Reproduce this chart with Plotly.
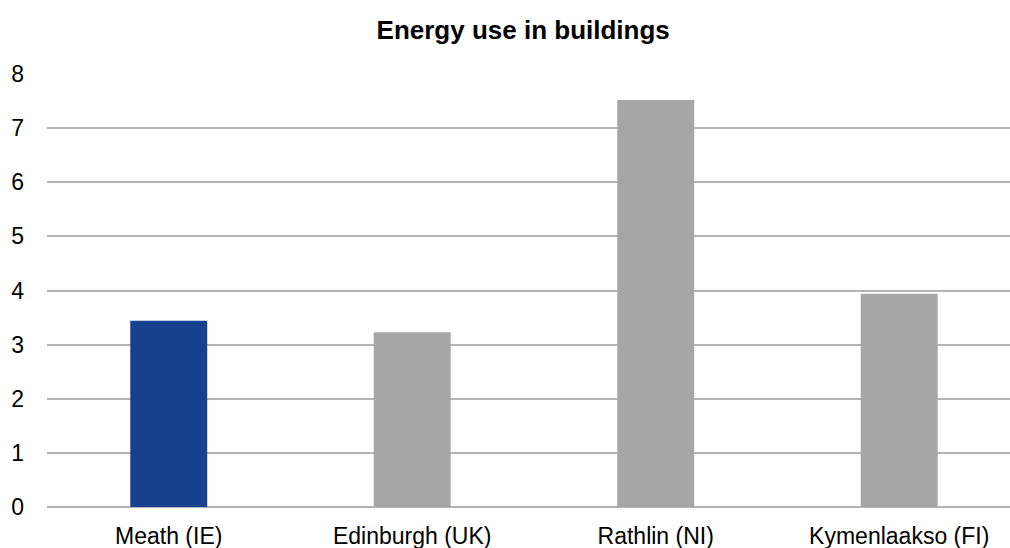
import plotly.graph_objects as go

# Energy use in buildings, by region
regions = ["Meath (IE)", "Edinburgh (UK)", "Rathlin (NI)", "Kymenlaakso (FI)"]
energy_use = [3.44, 3.23, 7.52, 3.94]
bar_colors = ["#17408f", "#a6a6a6", "#a6a6a6", "#a6a6a6"]
y_ticks = [0, 1, 2, 3, 4, 5, 6, 7, 8]

fig = go.Figure(
    go.Bar(
        x=regions,
        y=energy_use,
        marker=dict(color=bar_colors, line=dict(width=0)),
        width=0.316,
        hoverinfo="x+y",
    )
)

fig.update_layout(
    width=1010,
    height=548,
    paper_bgcolor="white",
    plot_bgcolor="white",
    margin=dict(l=47, r=0, t=74, b=41),
    showlegend=False,
    title=dict(
        text="<b>Energy use in buildings</b>",
        x=0.518,
        xanchor="center",
        y=0.945,
        yanchor="middle",
        font=dict(family="Liberation Sans, Arial, sans-serif", size=26, color="#000000"),
    ),
    font=dict(family="Liberation Sans, Arial, sans-serif", size=23, color="#000000"),
)

fig.update_xaxes(
    range=[-0.5, 3.455],
    showgrid=False,
    showline=False,
    ticks="",
    ticklabelstandoff=13,
    tickfont=dict(size=23, color="#000000"),
)

fig.update_yaxes(
    range=[0, 8],
    tickvals=y_ticks,
    showgrid=True,
    gridcolor="#b4b4b4",
    gridwidth=1.6,
    zeroline=True,
    zerolinecolor="#b4b4b4",
    zerolinewidth=1.6,
    showline=False,
    ticks="",
    ticklabelstandoff=22,
    tickfont=dict(size=23, color="#000000"),
)

fig.write_html("out.html")
